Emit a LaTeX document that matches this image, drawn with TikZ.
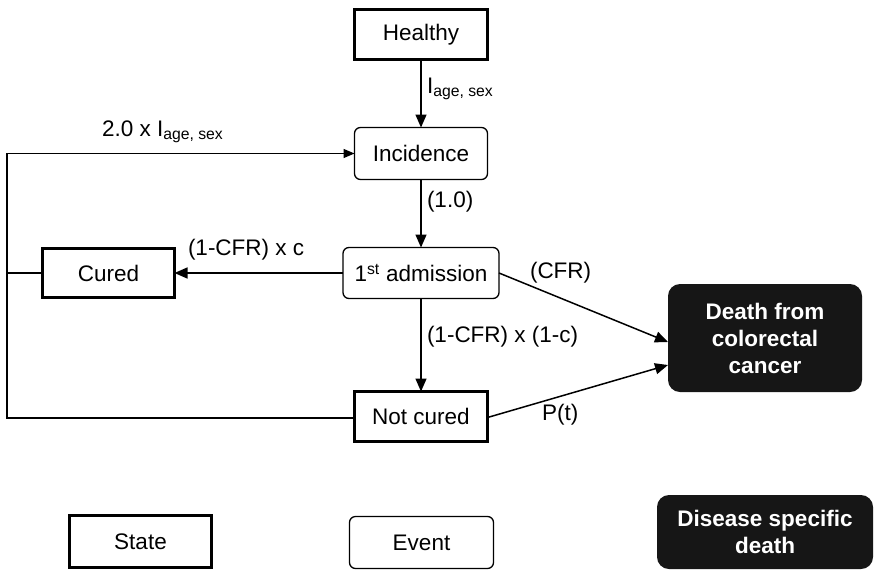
\documentclass[tikz,border=0pt]{standalone}
\usepackage{fontspec}
\setmainfont{Liberation Sans}
\usetikzlibrary{arrows.meta}
\definecolor{deathfill}{RGB}{22,22,22}
\begin{document}
\begin{tikzpicture}[x=1pt,y=-1pt,
  every node/.style={inner sep=0pt, outer sep=0pt, align=center,
    font=\fontsize{22.5}{27}\selectfont},
  statebox/.style={draw, line width=2.6pt},
  eventbox/.style={draw, line width=1.3pt, rounded corners=6pt},
  deathbox/.style={fill=deathfill, text=white, rounded corners=12pt,
    font=\bfseries\fontsize{22.5}{27}\selectfont},
  arr/.style={line width=1.5pt, -{Triangle[length=13pt,width=11pt]}},
  looparr/.style={line width=1.3pt, -{Triangle[length=11pt,width=9pt]}},
  link/.style={line width=1.3pt},
  lab/.style={anchor=base west}]
\useasboundingbox (0,0) rectangle (875,571);

% nodes
\node[statebox, minimum width=133pt, minimum height=50pt] (healthy) at (421,34.5) {Healthy};
\node[eventbox, minimum width=133pt, minimum height=52pt] (incidence) at (421,153.5) {Incidence};
\node[eventbox, minimum width=156pt, minimum height=51pt] (admission) at (421,273) {1\textsuperscript{st} admission};
\node[statebox, minimum width=132pt, minimum height=49pt] (cured) at (108.5,273) {Cured};
\node[statebox, minimum width=133pt, minimum height=50pt] (notcured) at (421,416.5) {Not cured};
\node[deathbox, minimum width=194pt, minimum height=108pt] (death) at (765,338) {Death from\\colorectal\\cancer};

% legend
\node[statebox, minimum width=142pt, minimum height=52pt] (state) at (140.5,541.5) {State};
\node[eventbox, minimum width=144pt, minimum height=52pt] (event) at (421.5,542.5) {Event};
\node[deathbox, minimum width=216pt, minimum height=74pt] (disease) at (765,532) {Disease specific\\death};

% connectors
\draw[arr] (healthy) -- (incidence);
\draw[arr] (incidence) -- (admission);
\draw[arr] (admission.west) -- (admission.west -| cured.east);
\draw[arr] (admission) -- (notcured);
\draw[arr] (admission.east) -- ([yshift=-4pt]death.west);
\draw[arr] ([yshift=-1pt]notcured.east) -- ([yshift=-27pt]death.west);

\coordinate (loopx) at (7,0);
\draw[looparr] ([yshift=-1.5pt]notcured.west) -- ([yshift=-1.5pt]notcured.west -| loopx) |- (incidence.west);
\draw[link] (cured.west) -- (cured.west -| loopx);

% labels
\node[lab] (lhi) at (427,93) {I\textsubscript{age, sex}};
\node[lab] (lre) at (102,136) {2.0 x I\textsubscript{age, sex}};
\node[lab] (lone) at (427,207) {(1.0)};
\node[lab] (lcure) at (188,255) {(1-CFR) x c};
\node[lab] (lcfr) at (530,278) {(CFR)};
\node[lab] (lnc) at (427,342) {(1-CFR) x (1-c)};
\node[lab] (lpt) at (542,420) {P(t)};
\end{tikzpicture}
\end{document}
